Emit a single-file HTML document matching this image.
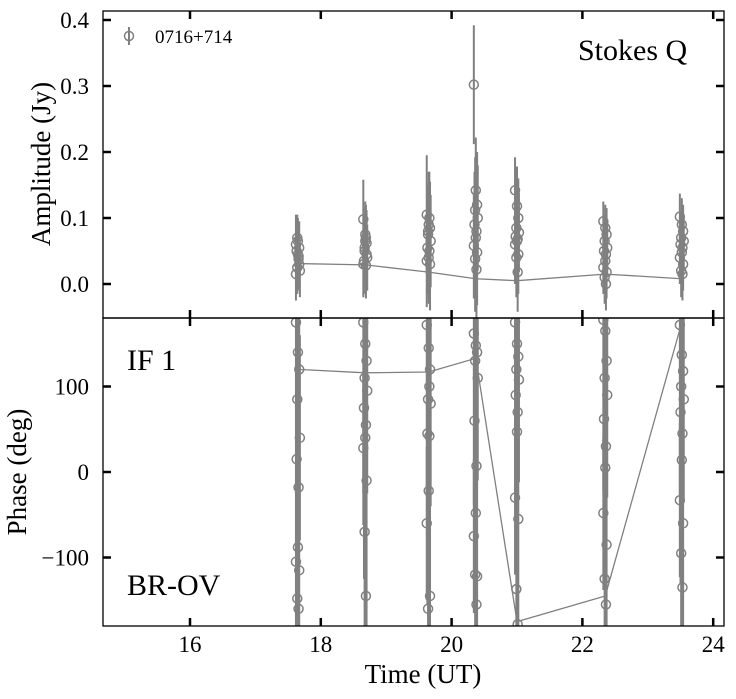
<!DOCTYPE html>
<html><head><meta charset="utf-8"><style>
html,body{margin:0;padding:0;background:#fff;width:736px;height:699px;overflow:hidden}
svg{display:block}
svg text{font-family:"Liberation Serif","DejaVu Serif",serif;fill:#000}
</style></head><body>
<svg id="chart" width="736" height="699" xmlns="http://www.w3.org/2000/svg">
<defs>
<clipPath id="cTop"><rect x="103" y="11" width="621" height="307"/></clipPath>
<clipPath id="cBot"><rect x="103" y="318" width="621" height="308"/></clipPath>
</defs>
<g id="topPanel" clip-path="url(#cTop)"></g>
<g id="botPanel" clip-path="url(#cBot)"></g>
<g id="axesGroup"></g>
<text x="578" y="60" font-size="30">Stokes Q</text>
<text x="127" y="370" font-size="30">IF 1</text>
<text x="127" y="595" font-size="30">BR-OV</text>
<g>
<line x1="129" y1="27" x2="129" y2="45" stroke="#808080" stroke-width="2"/>
<circle cx="129" cy="36" r="4.5" fill="none" stroke="#808080" stroke-width="1.5"/>
<text x="155" y="43" font-size="19">0716+714</text>
</g>
<text x="423" y="683" font-size="27" text-anchor="middle">Time (UT)</text>
<text transform="translate(50,164) rotate(-90)" font-size="27" text-anchor="middle">Amplitude (Jy)</text>
<text transform="translate(26,472) rotate(-90)" font-size="27" text-anchor="middle">Phase (deg)</text>
</svg>
<script>
const clusterTimes=[17.65,18.68,19.65,20.37,21.0,22.35,23.52];
const timeOffsets=[-0.03,0.0,0.02,-0.01,0.03,-0.02,0.01,0.0,-0.03,0.02,-0.01,0.01];
const amps=[
[0.06,0.045,0.03,0.07,0.02,0.05,0.038,0.065,0.015,0.055,0.025,0.042],
[0.098,0.075,0.062,0.05,0.04,0.035,0.028,0.065,0.03,0.045,0.055,0.07],
[0.105,0.09,0.085,0.075,0.065,0.055,0.05,0.04,0.035,0.03,0.08,0.1],
[0.302,0.142,0.12,0.112,0.1,0.09,0.08,0.07,0.058,0.048,0.038,0.022],
[0.142,0.118,0.1,0.085,0.078,0.072,0.068,0.065,0.06,0.045,0.04,0.018],
[0.095,0.085,0.075,0.065,0.055,0.05,0.045,0.035,0.025,0.018,0.01,0.0],
[0.102,0.09,0.08,0.07,0.065,0.06,0.055,0.048,0.04,0.03,0.02,0.015]];
const ampErrs=[
[0.045,0.04,0.04,0.035,0.04,0.04,0.045,0.035,0.04,0.04,0.04,0.04],
[0.06,0.05,0.05,0.05,0.05,0.05,0.05,0.05,0.05,0.05,0.05,0.05],
[0.09,0.08,0.07,0.07,0.07,0.07,0.07,0.07,0.07,0.07,0.07,0.07],
[0.09,0.08,0.08,0.08,0.08,0.08,0.08,0.08,0.08,0.08,0.08,0.08],
[0.05,0.06,0.06,0.06,0.06,0.06,0.06,0.06,0.06,0.06,0.06,0.06],
[0.03,0.035,0.04,0.04,0.04,0.04,0.04,0.04,0.04,0.04,0.04,0.04],
[0.035,0.04,0.04,0.04,0.04,0.04,0.04,0.04,0.04,0.04,0.04,0.04]];
const phases=[
[175,140,120,85,40,15,-18,-88,-105,-115,-148,-160],
[175,150,130,110,95,75,55,40,28,-10,-70,-145],
[172,145,120,85,80,45,42,-22,-60,-145,-160,100],
[162,148,140,130,110,60,7,-48,-75,-122,-120,-155],
[175,150,135,120,108,90,70,47,-30,-55,-137,-178],
[178,165,130,110,90,62,30,5,-48,-85,-125,-155],
[172,137,118,100,85,70,45,14,-33,-60,-95,-135]];
const phaseErr=[200,200,90,200,120,200];
const avgAmp=[0.031,0.029,0.018,0.008,0.005,0.015,0.008];
const avgPhase=[120,116,117,133,-175,-145,175];
const xTicks=[16,18,20,22,24];
const ampTicks=[0.0,0.1,0.2,0.3,0.4];
const phaseTicks=[100,0,-100];

const X=t=>190+(t-16)*65.4;
const YA=a=>284-a*660;
const YP=p=>472-p*0.855;
const NS="http://www.w3.org/2000/svg";
function mk(tag,attrs,parent){const e=document.createElementNS(NS,tag);for(const k in attrs)e.setAttribute(k,attrs[k]);parent.appendChild(e);return e;}
const gTop=document.getElementById('topPanel'),gBot=document.getElementById('botPanel'),gAxes=document.getElementById('axesGroup');
const G='#808080';
for(let c=0;c<clusterTimes.length;c++){
 for(let i=0;i<amps[c].length;i++){
  const t=clusterTimes[c]+timeOffsets[i];const x=X(t);
  const eb=mk('line',{x1:x,x2:x,y1:YA(amps[c][i]-ampErrs[c][i]),y2:YA(amps[c][i]+ampErrs[c][i]),stroke:G,'stroke-width':2},gTop);
  
  
  const pt=mk('circle',{cx:x,cy:YA(amps[c][i]),r:4.5,fill:'none',stroke:G,'stroke-width':1.5},gTop);
  
  
  const pe=phaseErr[i%phaseErr.length];
  const eb2=mk('line',{x1:x,x2:x,y1:YP(phases[c][i]-pe),y2:YP(phases[c][i]+pe),stroke:G,'stroke-width':2},gBot);
  
  
  const pt2=mk('circle',{cx:x,cy:YP(phases[c][i]),r:4.5,fill:'none',stroke:G,'stroke-width':1.5},gBot);
  
  
 }
}
const l1=mk('polyline',{points:clusterTimes.map((t,i)=>X(t)+','+YA(avgAmp[i])).join(' '),fill:'none',stroke:G,'stroke-width':1.3},gTop);


const l2=mk('polyline',{points:clusterTimes.map((t,i)=>X(t)+','+YP(avgPhase[i])).join(' '),fill:'none',stroke:G,'stroke-width':1.3},gBot);


for(const [y,h,n] of [[11,307,'amplitude-frame'],[318,308,'phase-frame']]){
 const r=mk('rect',{x:103,y:y,width:621,height:h,fill:'none',stroke:'#000','stroke-width':1.3},gAxes);
 
 
}
for(const t of xTicks){
 const x=X(t);
 for(const [y,d] of [[11,1],[318,-1],[318,1],[626,-1]]){
  const tk=mk('line',{x1:x,x2:x,y1:y,y2:y+d*8,stroke:'#000','stroke-width':2.5},gAxes);
  
  
 }
 const lb=mk('text',{x:x,y:652,'font-size':23,'text-anchor':'middle'},gAxes);lb.textContent=t;
 
 
}
for(const a of ampTicks){
 const y=YA(a);
 for(const [x,d] of [[103,1],[724,-1]]){
  const tk=mk('line',{x1:x,x2:x+d*8,y1:y,y2:y,stroke:'#000','stroke-width':2.5},gAxes);
  
  
 }
 const lb=mk('text',{x:89,y:y+8,'font-size':23,'text-anchor':'end'},gAxes);lb.textContent=a.toFixed(1);
 
 
}
for(const p of phaseTicks){
 const y=YP(p);
 for(const [x,d] of [[103,1],[724,-1]]){
  const tk=mk('line',{x1:x,x2:x+d*8,y1:y,y2:y,stroke:'#000','stroke-width':2.5},gAxes);
  
  
 }
 const lb=mk('text',{x:89,y:y+8,'font-size':23,'text-anchor':'end'},gAxes);lb.textContent=p<0?'\u2212'+(-p):p;
 
 
}
</script>
</body></html>
